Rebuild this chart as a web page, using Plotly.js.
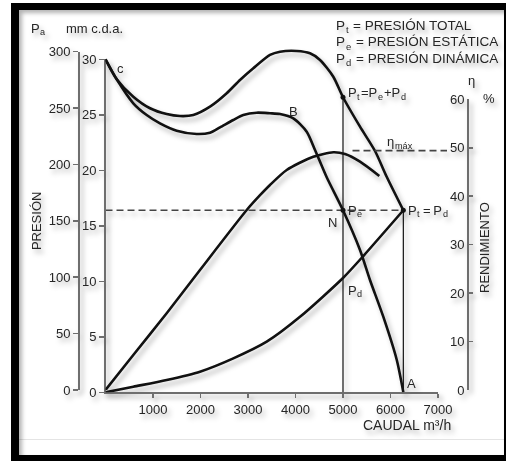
<!DOCTYPE html>
<html>
<head>
<meta charset="utf-8">
<script src="https://cdn.plot.ly/plotly-3.0.1.min.js"></script>
<style>
html, body { margin: 0; padding: 0; background: #ffffff; }
#chart { position: absolute; left: 0; top: 0; width: 506px; height: 461px; }
#chart .main-svg { filter: drop-shadow(3px 4px 2.5px rgba(0,0,0,0.30)); }
#frame { position: absolute; left: 11px; top: 3px; width: 495px; height: 458px; box-sizing: border-box;
  border-style: solid; border-color: #000; border-width: 7px 2px 6px 8px; pointer-events: none;
  box-shadow: inset 3px 3px 4px rgba(0,0,0,0.30); }
#floor { position: absolute; left: 19px; top: 439px; width: 485px; height: 1px; background: #e4e4e4; pointer-events: none; }
</style>
</head>
<body>
<div id="chart"></div>
<div id="floor"></div>
<div id="frame"></div>
<script>
// ---- Datos (caudal en m³/h, presión en mm c.d.a., rendimiento en %) ----
var caudalPt       = [0, 236, 585, 937, 1288, 1568, 1848, 2200, 2552, 2832, 3112, 3463, 3674, 4025, 4305, 4516, 4796, 5000, 5358, 5674, 5920, 6270];
var presionTotal   = [30.0, 28.2, 26.63, 25.59, 25.07, 24.89, 24.98, 25.73, 26.94, 28.14, 29.19, 30.39, 30.68, 30.75, 30.54, 29.94, 28.43, 26.58, 23.93, 21.74, 19.42, 16.4];

var caudalPe         = [0, 236, 585, 867, 1147, 1499, 1920, 2200, 2411, 2691, 2901, 3183, 3463, 3674, 3954, 4236, 4411, 4657, 5000, 5358, 5568, 5848, 6131, 6270];
var presionEstatica  = [30.0, 28.2, 26.04, 24.98, 24.23, 23.57, 23.27, 23.39, 23.87, 24.53, 24.98, 25.19, 25.14, 25.07, 24.68, 23.48, 21.83, 19.37, 16.4, 12.82, 10.12, 6.81, 2.93, 0];

var caudalPd         = [0, 585, 1288, 1989, 2691, 3394, 4095, 5000, 5432, 6270];
var presionDinamica  = [0, 0.5, 1.11, 1.86, 3.06, 4.56, 6.8, 10.3, 12.3, 16.4];

var caudalRend   = [0, 585, 1288, 1989, 2973, 3253, 3463, 3815, 4375, 4796, 5042, 5358, 5764];
var rendimiento  = [0, 7.22, 15.83, 24.77, 37.15, 40.2, 42.31, 45.41, 48.15, 49.06, 48.7, 47.12, 44.17];

var caudalN = 5000;          // punto de trabajo N
var caudalA = 6270;          // punto A (Pt = Pd)
var presionN = 16.4;         // Pe en N = Pt en A
var rendMax = 49.4;          // η máx
var rendMaxDesde = 5200, rendMaxHasta = 7190;

var ticksCaudal  = [1000, 2000, 3000, 4000, 5000, 6000, 7000];
var ticksMm      = [0, 5, 10, 15, 20, 25, 30];
var ticksPa      = [0, 50, 100, 150, 200, 250, 300];
var ticksRend    = [0, 10, 20, 30, 40, 50, 60];

// ---- Figura ----
var F = 'Liberation Sans, Arial, Helvetica, sans-serif';
var TXT = '#262626';
var AX = '#6e6e6e';
var W = 506, H = 461;
function px(x) { return x / W; }
function py(y) { return (H - y) / H; }

var ptN = presionTotal[caudalPt.indexOf(caudalN)];
var curve = {color: '#111', width: 2.6, shape: 'spline', smoothing: 0.7};

var data = [
  {x: caudalPt, y: presionTotal, xaxis: 'x2', yaxis: 'y', mode: 'lines', line: curve, name: 'Pt'},
  {x: caudalPe, y: presionEstatica, xaxis: 'x2', yaxis: 'y', mode: 'lines', line: curve, name: 'Pe'},
  {x: caudalPd, y: presionDinamica, xaxis: 'x2', yaxis: 'y', mode: 'lines', line: curve, name: 'Pd'},
  {x: caudalRend, y: rendimiento, xaxis: 'x2', yaxis: 'y4', mode: 'lines', line: curve, name: 'η'},
  {x: [caudalN, caudalN], y: [0, ptN], xaxis: 'x', yaxis: 'y2', mode: 'lines', line: {color: '#111', width: 1.2}},
  {x: [caudalA, caudalA], y: [0, presionN], xaxis: 'x', yaxis: 'y2', mode: 'lines', line: {color: '#111', width: 1.2}},
  {x: [0, caudalA], y: [presionN, presionN], xaxis: 'x', yaxis: 'y2', mode: 'lines', line: {color: '#444', width: 1.6, dash: '7px,4px'}},
  {x: [rendMaxDesde, rendMaxHasta], y: [rendMax, rendMax], xaxis: 'x2', yaxis: 'y4', mode: 'lines', line: {color: '#444', width: 1.6, dash: '7px,4px'}},
  {x: [caudalN, caudalN, caudalA], y: [ptN, presionN, presionN], xaxis: 'x2', yaxis: 'y', mode: 'markers', marker: {color: '#111', size: 5}},
  {x: [], y: [], xaxis: 'x', yaxis: 'y3', mode: 'lines'}
];

// texto con subíndices: cada trozo es una anotación real
var ctx = document.createElement('canvas').getContext('2d');
function tw(s, size) { ctx.font = size + 'px "Liberation Sans", Arial, sans-serif'; return ctx.measureText(s).width; }
function rich(pieces, x, y, xref, yref, anchor, size) {
  var GAP = 0.8;
  var total = 0, w = [];
  pieces.forEach(function (p) { var s = p[1] ? size * 0.7 : size; var ww = tw(p[0], s) + GAP; w.push(ww); total += ww; });
  total -= GAP;
  var off = anchor === 'center' ? -total / 2 : (anchor === 'right' ? -total : 0);
  var out = [];
  pieces.forEach(function (p, i) {
    var s = p[1] ? size * 0.7 : size;
    var lead = p[0].match(/^\s*/)[0];
    var txt = p[0].trim();
    if (txt) out.push({text: txt, x: x, y: y, xref: xref, yref: yref, showarrow: false,
      xanchor: 'left', yanchor: 'middle', xshift: off + tw(lead, s) - 2, yshift: p[1] ? -0.32 * size : 0,
      font: {family: F, size: s, color: TXT}});
    off += w[i];
  });
  return out;
}
function ann(pieces, x, y, anchor) { return rich(pieces, x, y, 'x2', 'y', anchor || 'center', 13); }
function pann(pieces, x, y, anchor, size, angle) {
  if (angle) return [{text: pieces[0][0], x: px(x), y: py(y), xref: 'paper', yref: 'paper', showarrow: false,
    xanchor: 'center', yanchor: 'middle', textangle: angle, font: {family: F, size: size || 13, color: TXT}}];
  return rich(pieces, px(x), py(y), 'paper', 'paper', anchor || 'left', size || 13);
}

var annotations = [].concat(
  ann([['c']], 320, 29.2),
  ann([['B']], 3954, 25.3),
  ann([['P'], ['t', 1], ['=P'], ['e', 1], ['+P'], ['d', 1]], 5105, 27.0, 'left'),
  ann([['η'], ['máx', 1]], 6200, 22.6),
  ann([['P'], ['e', 1]], 5105, 16.4, 'left'),
  ann([['N']], 4783, 15.3),
  ann([['P'], ['t', 1], ['\u2009=\u2009P'], ['d', 1]], 6368, 16.4, 'left'),
  ann([['P'], ['d', 1]], 5105, 9.2, 'left'),
  ann([['A']], 6446, 0.75),
  pann([['P'], ['t', 1], [' = PRESIÓN TOTAL']], 336, 25, 'left', 13.5),
  pann([['P'], ['e', 1], [' = PRESIÓN ESTÁTICA']], 336, 41.7, 'left', 13.5),
  pann([['P'], ['d', 1], [' = PRESIÓN DINÁMICA']], 336, 58.3, 'left', 13.5),
  pann([['P'], ['a', 1]], 31, 28),
  pann([['mm c.d.a.']], 66, 28.5),
  pann([['η']], 472, 80, 'center'),
  pann([['%']], 489, 99, 'center'),
  pann([['CAUDAL m³/h']], 452, 425, 'right', 14),
  pann([['RENDIMIENTO']], 484, 248, 'center', 13, -90)
);

var tickFont = {family: F, size: 13, color: TXT};

var layout = {
  width: W, height: H,
  margin: {l: 0, r: 0, t: 0, b: 0, pad: 0},
  paper_bgcolor: 'rgba(0,0,0,0)', plot_bgcolor: 'rgba(0,0,0,0)',
  showlegend: false,
  font: {family: F, color: TXT},
  xaxis: {domain: [px(105.5), px(438)], range: [0, 7000], anchor: 'y2',
    showline: true, linecolor: AX, linewidth: 2, ticks: 'outside', ticklen: 4, tickcolor: AX, tickwidth: 1.5,
    tickmode: 'array', tickvals: ticksCaudal, showgrid: false, zeroline: false, tickfont: tickFont},
  xaxis2: {domain: [px(105.5), 1], range: [0, (W - 105.5) / 47.5 * 1000], anchor: 'y', visible: false},
  yaxis: {domain: [py(392.3), py(30)], range: [0, (392.3 - 30) / 11.1], anchor: 'x2', visible: false},
  yaxis2: {domain: [py(392.3), py(59.3)], range: [0, 30], anchor: 'x',
    showline: true, linecolor: AX, linewidth: 1.5, ticks: 'outside', ticklen: 5, tickcolor: AX, tickwidth: 1.5,
    tickmode: 'array', tickvals: ticksMm, showgrid: false, zeroline: false, tickfont: tickFont},
  yaxis3: {domain: [py(390), py(51.7)], range: [0, 300], anchor: 'free', position: px(78),
    showline: true, linecolor: AX, linewidth: 1.5, ticks: 'outside', ticklen: 5, tickcolor: AX, tickwidth: 1.5,
    tickmode: 'array', tickvals: ticksPa, showgrid: false, zeroline: false, tickfont: tickFont,
    title: {text: 'PRESIÓN', font: {family: F, size: 13, color: TXT}, standoff: 2}},
  yaxis4: {domain: [py(390), py(99.3)], range: [0, 60], anchor: 'free', position: px(467), side: 'left',
    showline: true, linecolor: AX, linewidth: 1.5, ticks: 'inside', ticklen: 4, tickcolor: AX, tickwidth: 1.5,
    tickmode: 'array', tickvals: ticksRend, showgrid: false, zeroline: false, tickfont: tickFont},
  annotations: annotations
};

Plotly.newPlot('chart', data, layout, {staticPlot: true, displayModeBar: false});
</script>
</body>
</html>
